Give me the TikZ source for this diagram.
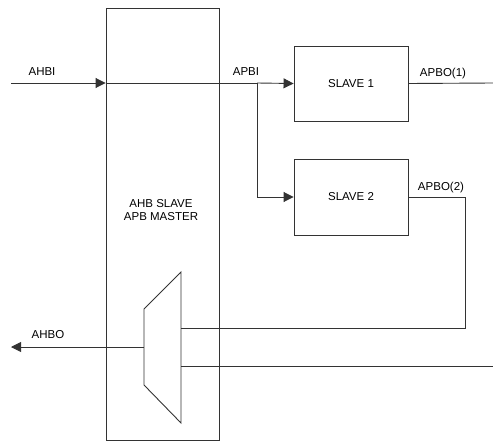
\documentclass[tikz,border=0pt]{standalone}
\usepackage{fontspec}
\setmainfont{Liberation Sans}
\usetikzlibrary{arrows.meta}

\begin{document}
\begin{tikzpicture}[x=1pt,y=-1pt,line width=0.9pt,
  font=\fontsize{11.5}{12.5}\selectfont,
  blk/.style={draw=black!80,inner sep=0pt},
  sig/.style={draw=black!80},
  tip/.style={-{Triangle[length=10pt,width=10pt]}},
  lbl/.style={inner sep=0pt}]
  \useasboundingbox (0,0) rectangle (493,442);
  % blocks
  \node[blk,minimum width=113pt,minimum height=432pt] (bridge) at (162.5,224) {};
  \node[lbl,align=center] (bridgetxt) at (161,210) {AHB SLAVE\\APB MASTER};
  \node[blk,minimum width=114pt,minimum height=75pt] (slave1) at (351,83.5) {SLAVE 1};
  \node[blk,minimum width=114pt,minimum height=76pt] (slave2) at (351,197) {SLAVE 2};
  % mux
  \coordinate (muxtr) at (181,272);
  \coordinate (muxbr) at (181,423);
  \coordinate (muxtl) at (144,309);
  \coordinate (muxbl) at (144,385);
  \draw[sig] (muxtl) -- (muxtr) -- (muxbr) -- (muxbl) -- cycle;
  \coordinate (muxout) at (144,347);
  \coordinate (muxin1) at (181,328);
  \coordinate (muxin2) at (181,366);
  % signals
  \coordinate (ahbi) at (11,83);
  \coordinate (split) at (257,83);
  \coordinate (bend) at (465,197);
  \coordinate (apbo1) at (493,83);
  \coordinate (ext) at (493,366);
  \coordinate (ahbo) at (11,347);
  \draw[sig,tip] (ahbi) -- (ahbi -| bridge.west);
  \draw[sig] (ahbi -| bridge.west) -- (split);
  \draw[sig,tip] (split) -- (slave1.west);
  \draw[sig,tip] (split) |- (slave2.west);
  \draw[sig] (slave1.east) -- (apbo1);
  \draw[sig] (slave2.east) -- (bend) |- (muxin1);
  \draw[sig] (ext) -- (muxin2);
  \draw[sig,tip] (muxout) -- (ahbo);
  % labels
  \node[lbl] (ahbilbl) at (42,72) {AHBI};
  \node[lbl] (apbilbl) at (246,72) {APBI};
  \node[lbl] (apbo1lbl) at (443,74) {APBO(1)};
  \node[lbl] (apbo2lbl) at (441,187.5) {APBO(2)};
  \node[lbl] (ahbolbl) at (48,335) {AHBO};
\end{tikzpicture}
\end{document}
